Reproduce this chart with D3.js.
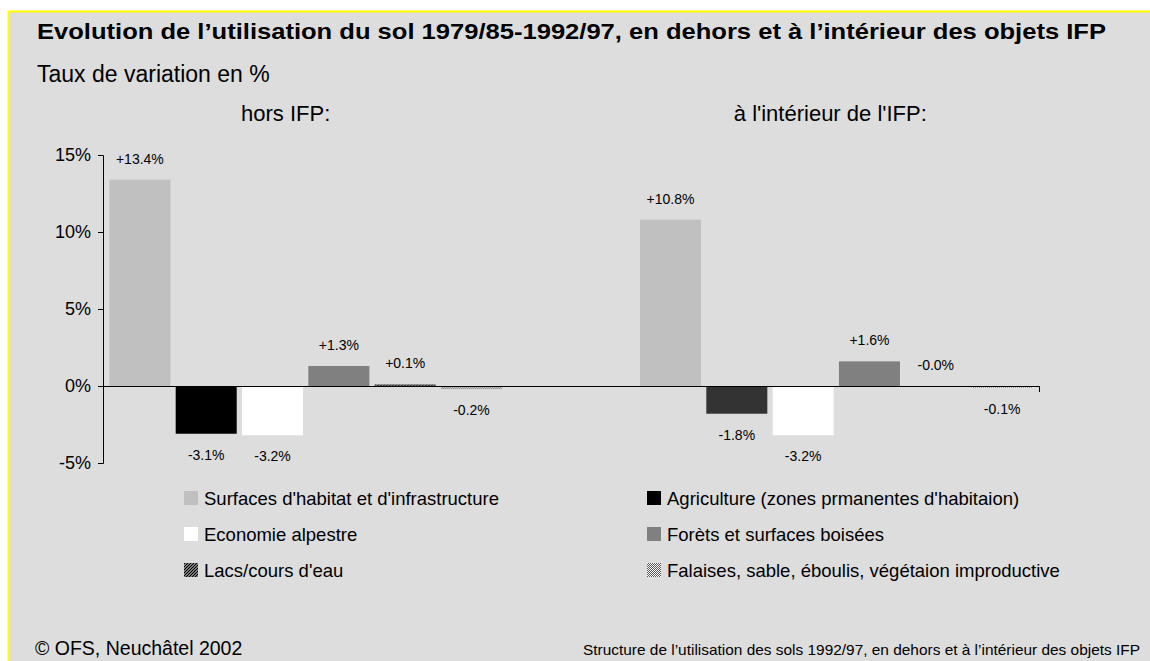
<!DOCTYPE html>
<html>
<head>
<meta charset="utf-8">
<script src="https://cdn.jsdelivr.net/npm/d3@7"></script>
<style>
  body { margin: 0; background: #ffffff; }
  text { font-family: "Liberation Sans", Arial, sans-serif; fill: #000; }
</style>
</head>
<body>
<div id="Canvas"></div>
<script>
// données
const groups = ["hors IFP:", "à l'intérieur de l'IFP:"]
const series = ["Surfaces d'habitat et d'infrastructure", "Agriculture (zones prmanentes d'habitaion)",
  "Economie alpestre", "Forèts et surfaces boisées", "Lacs/cours d'eau",
  "Falaises, sable, éboulis, végétaion improductive"]
const valuesHors = [13.4, -3.1, -3.2, 1.3, 0.1, -0.2]
const valuesIFP = [10.8, -1.8, -3.2, 1.6, -0.0, -0.1]
const yTicks = [-5, 0, 5, 10, 15]

const W = 1150, H = 661
let svg = d3.select("#Canvas")
  .append("svg")
  .attr("width", W)
  .attr("height", H)

// motifs pour lacs / falaises
let defs = svg.append("defs")
let hatch = defs.append("pattern").attr("id", "hatch")
  .attr("patternUnits", "userSpaceOnUse").attr("width", 3).attr("height", 3)
hatch.append("rect").attr("width", 3).attr("height", 3).attr("fill", "#fff")
hatch.append("path").attr("d", "M0,3 L3,0 M-1,1 L1,-1 M2,4 L4,2")
  .attr("stroke", "#000").attr("stroke-width", 1.5)
let dots = defs.append("pattern").attr("id", "dots")
  .attr("patternUnits", "userSpaceOnUse").attr("width", 2).attr("height", 2)
dots.append("rect").attr("width", 2).attr("height", 2).attr("fill", "#fff")
dots.append("rect").attr("width", 1).attr("height", 1).attr("fill", "#555")
dots.append("rect").attr("x", 1).attr("y", 1).attr("width", 1).attr("height", 1).attr("fill", "#555")

const colors = ["#c0c0c0", "#000000", "#ffffff", "#808080", "url(#hatch)", "url(#dots)"]

// fond
svg.append("rect").attr("x", 8).attr("y", 11).attr("width", W - 8).attr("height", H - 11)
  .attr("fill", "#dddddd")
svg.append("line").attr("x1", 8).attr("x2", W).attr("y1", 11.5).attr("y2", 11.5)
  .attr("stroke", "#ffff00").attr("stroke-width", 2)
svg.append("line").attr("x1", 8.5).attr("x2", 8.5).attr("y1", 11).attr("y2", H)
  .attr("stroke", "#ffff00").attr("stroke-width", 2)

// titres
svg.append("text").attr("x", 37).attr("y", 39)
  .style("font-size", "21.5px").style("font-weight", "bold")
  .attr("textLength", 1069).attr("lengthAdjust", "spacingAndGlyphs")
  .text("Evolution de l’utilisation du sol 1979/85-1992/97, en dehors et à l’intérieur des objets IFP")
svg.append("text").attr("x", 37).attr("y", 82)
  .style("font-size", "23px")
  .text("Taux de variation en %")

// échelles
let yScale = d3.scaleLinear().domain([-5, 15]).range([463, 155])
let x0 = d3.scaleBand().domain(groups).range([103, 1039])
  .paddingInner(0.26).paddingOuter(0.012)
let x1 = d3.scaleBand().domain(series).range([0, x0.bandwidth()]).paddingInner(0.08)

// titres de groupe
const gOffset = [-20, -6]
svg.selectAll(".gtitle").data(groups).enter().append("text")
  .attr("x", (d, i) => x0(d) + x0.bandwidth() / 2 + gOffset[i])
  .attr("y", 121)
  .attr("text-anchor", "middle")
  .style("font-size", "22px")
  .text(d => d)

// axe y
let yAxis = d3.axisLeft(yScale).tickValues(yTicks).tickSize(5).tickPadding(7)
  .tickFormat(d => d + "%")
let gy = svg.append("g").attr("transform", "translate(103,0)").call(yAxis)
gy.select(".domain").attr("stroke", "#000")
gy.selectAll("text").style("font-size", "18px").style("font-family", "Liberation Sans, Arial, sans-serif")

// barres
const data = [valuesHors, valuesIFP]
let fmt = v => ((v < 0 || Object.is(v, -0)) ? "-" : "+") + Math.abs(v).toFixed(1) + "%"
data.forEach((vals, gi) => {
  let g = svg.append("g").attr("transform", "translate(" + x0(groups[gi]) + ",0)")
  let rows = vals.map((v, i) => ({ s: series[i], v: v, i: i }))
  g.selectAll("rect").data(rows).enter().append("rect")
    .attr("x", d => x1(d.s))
    .attr("width", x1.bandwidth())
    .attr("y", d => yScale(Math.max(0, d.v)))
    .attr("height", d => Math.abs(yScale(d.v) - yScale(0)))
    .attr("fill", d => (gi === 1 && d.i === 1) ? "#333333" : colors[d.i])
  g.selectAll("text").data(rows).enter().append("text")
    .attr("x", d => x1(d.s) + x1.bandwidth() / 2)
    .attr("y", d => (d.v >= 0) ? yScale(d.v) - 16 : yScale(d.v) + 26)
    .attr("text-anchor", "middle")
    .style("font-size", "14px")
    .text(d => fmt(d.v))
})

// axe x (ligne zéro)
svg.append("line").attr("x1", 98).attr("x2", 1039.5)
  .attr("y1", yScale(0) + 0.5).attr("y2", yScale(0) + 0.5).attr("stroke", "#000")
svg.append("line").attr("x1", 1039.5).attr("x2", 1039.5)
  .attr("y1", yScale(0)).attr("y2", yScale(0) + 6).attr("stroke", "#000")

// légende
let legX = [184, 647], legY = [498, 534, 570]
let leg = svg.selectAll(".leg").data(series).enter().append("g")
  .attr("transform", (d, i) => "translate(" + legX[i % 2] + "," + legY[Math.floor(i / 2)] + ")")
leg.append("rect").attr("x", 0).attr("y", -7).attr("width", 14).attr("height", 14)
  .attr("fill", (d, i) => colors[i])
leg.append("text").attr("x", 20).attr("y", 7)
  .style("font-size", "18.5px")
  .text(d => d)

// pied de page
svg.append("text").attr("x", 35).attr("y", 655).style("font-size", "19.5px")
  .text("© OFS, Neuchâtel 2002")
svg.append("text").attr("x", 1140).attr("y", 655).attr("text-anchor", "end")
  .style("font-size", "15px")
  .attr("textLength", 557).attr("lengthAdjust", "spacingAndGlyphs")
  .text("Structure de l’utilisation des sols 1992/97, en dehors et à l’intérieur des objets IFP")
</script>
</body>
</html>
